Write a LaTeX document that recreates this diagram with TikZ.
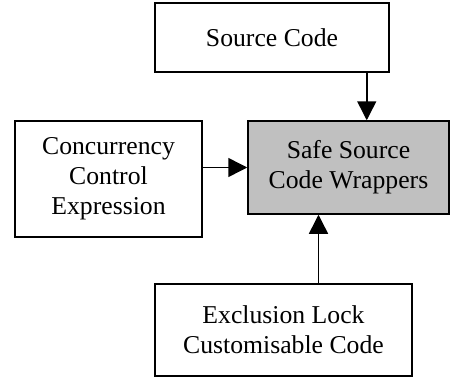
\documentclass[tikz,border=0pt]{standalone}
\usepackage{fontspec}
\setmainfont{Liberation Serif}
\usetikzlibrary{arrows.meta}
\definecolor{safegray}{HTML}{C0C0C0}
\begin{document}
\begin{tikzpicture}[x=1pt, y=-1pt,
   every node/.style={draw, line width=1.5pt, align=center, inner sep=0pt,
      font=\fontsize{25.7}{30}\selectfont},
   box/.style 2 args={minimum width=#1, minimum height=#2},
   link/.style={line width=1.5pt, -{Triangle[length=19pt, width=19pt]}}]
\useasboundingbox (0,0) rectangle (451,383);

\node[box={234pt}{69pt}] (src) at (272,37.5) {Source Code};
\node[box={187pt}{116pt}] (cce) at (108.5,179) {Concurrency\\Control\\Expression};
\node[box={201pt}{93pt}, fill=safegray] (safe) at (348.5,167.5) {Safe Source\\Code Wrappers};
\node[box={257pt}{92pt}] (lock) at (283.5,330) {Exclusion Lock\\Customisable Code};

\coordinate (srcout) at ([xshift=-23pt]src.south east);
\coordinate (lockout) at ([xshift=35pt]lock.north);
\draw[link] (srcout) -- (srcout |- safe.north);
\draw[link] (cce.east |- safe.west) -- (safe.west);
\draw[link] (lockout) -- (lockout |- safe.south);

\end{tikzpicture}
\end{document}
